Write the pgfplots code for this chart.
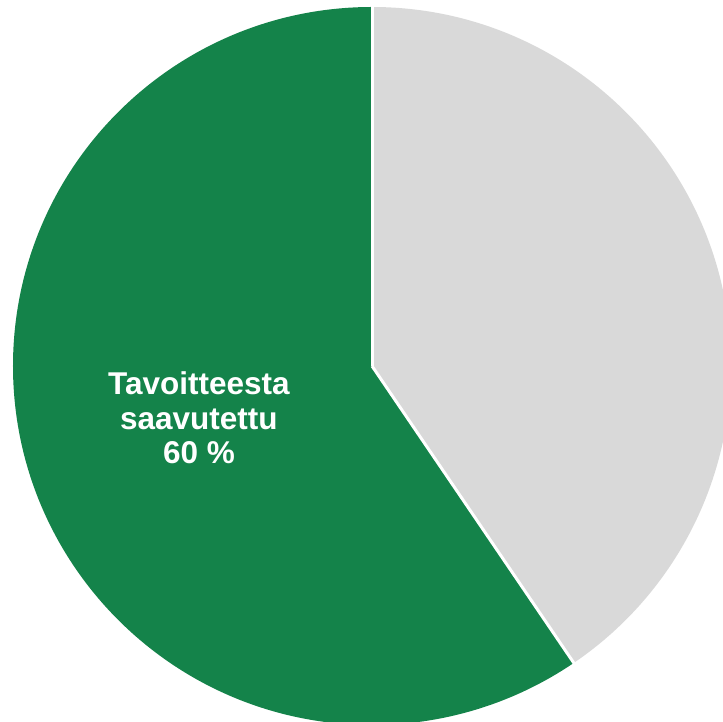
\documentclass[border=0pt]{standalone}
\usepackage{pgfplots}
\pgfplotsset{compat=1.18}
\usepackage{fontspec}
\setmainfont{Liberation Sans}
\definecolor{pgreen}{RGB}{20,131,74}
\definecolor{pgray}{RGB}{217,217,217}
\begin{document}
\begin{tikzpicture}
% data: share reached (%), remainder (%)
\def\valA{59.5}
\def\valB{40.5}
\pgfmathsetmacro{\endA}{90+3.6*\valA}
\begin{axis}[
  width=723pt, height=722pt, scale only axis,
  hide axis,
  xmin=-1.0362, xmax=0.9777,
  ymin=-0.9916, ymax=1.0195,
]
\fill[pgreen] (axis cs:0,0) -- (axis cs:0,1) arc[start angle=90, end angle=\endA, radius=1] -- cycle;
\fill[pgray] (axis cs:0,0) -- (axis cs:0,1) arc[start angle=90, end angle=\endA-360, radius=1] -- cycle;
\draw[white, line width=3pt] (axis cs:0,0) -- (axis cs:0,1.05);
\draw[white, line width=3pt] (axis cs:0,0) -- (axis cs:{1.05*cos(\endA)},{1.05*sin(\endA)});
\node[white, font=\bfseries\fontsize{31.5}{34.5}\selectfont, align=center] at (axis cs:-0.482,-0.145) {Tavoitteesta\\saavutettu\\60 \%};
\end{axis}
\pgfresetboundingbox
\path (current axis.south west) rectangle (current axis.north east);
\end{tikzpicture}
\end{document}
